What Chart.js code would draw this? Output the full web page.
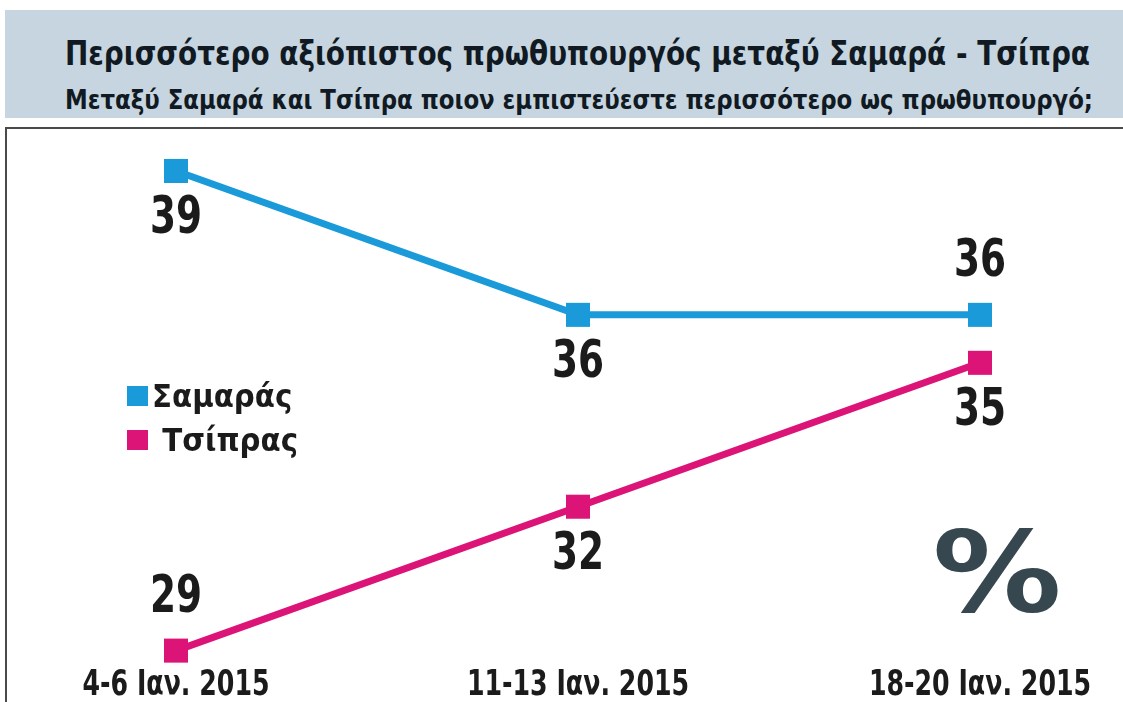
<!DOCTYPE html>
<html>
<head>
<meta charset="utf-8">
<script src="https://cdn.jsdelivr.net/npm/chart.js@4.4.1/dist/chart.umd.min.js"></script>
<style>
  html, body { margin: 0; padding: 0; background: #fff; }
  body { width: 1123px; height: 702px; position: relative; overflow: hidden; }
  #head {
    position: absolute; left: 5px; top: 10px; width: 1118px; height: 108px;
    background: #c6d5e0; color: #111a22;
    font-family: "DejaVu Sans Condensed", sans-serif; font-weight: bold;
  }
  #head div { position: absolute; white-space: nowrap; transform-origin: 0 0; }
  #head .t1 { left: 60px; top: 23px; font-size: 34px; line-height: 40px; }
  #head .t2 { left: 60px; top: 74px; font-size: 27px; line-height: 32px; }
  #frame {
    position: absolute; left: 5px; top: 127px; width: 1118px; height: 600px;
    border-top: 2px solid #4a4a4a; border-left: 2px solid #4a4a4a;
  }
  #pollChart { position: absolute; left: 0; top: 0; }
</style>
</head>
<body>
<div id="head">
  <div class="t1" data-w="1025">Περισσότερο αξιόπιστος πρωθυπουργός μεταξύ Σαμαρά - Τσίπρα</div>
  <div class="t2" data-w="1028">Μεταξύ Σαμαρά και Τσίπρα ποιον εμπιστεύεστε περισσότερο ως πρωθυπουργό;</div>
</div>
<div id="frame"></div>
<canvas id="pollChart" width="1123" height="702"></canvas>
<script>
const periods = ['4-6 Ιαν. 2015', '11-13 Ιαν. 2015', '18-20 Ιαν. 2015'];
const samaras = [39, 36, 36];
const tsipras = [29, 32, 35];

const FONT = '"DejaVu Sans Condensed", sans-serif';

// squeeze the header lines to the width of the original
document.querySelectorAll('#head div').forEach(el => {
  const w = el.getBoundingClientRect().width;
  el.style.transform = 'scaleX(' + (el.dataset.w / w) + ')';
});

function narrowText(ctx, text, x, y, sx) {
  ctx.save();
  ctx.translate(x, y);
  ctx.scale(sx, 1);
  ctx.fillText(text, 0, 0);
  ctx.restore();
}

// value labels, category labels, legend box and the big % sign
const extras = {
  id: 'extras',
  afterDatasetsDraw(chart) {
    const ctx = chart.ctx;
    ctx.save();
    ctx.fillStyle = '#1b1b1b';
    ctx.font = 'bold 52px ' + FONT;
    ctx.textAlign = 'center';
    ctx.textBaseline = 'middle';
    chart.data.datasets.forEach((ds, i) => {
      chart.getDatasetMeta(i).data.forEach((pt, j) => {
        const off = ds.labelSide[j] === 'up' ? -52 : 49;
        narrowText(ctx, String(ds.data[j]), pt.x, pt.y + off, 0.8);
      });
    });

    // x labels, placed by the category scale
    const xs = chart.scales.x;
    ctx.font = 'bold 36px ' + FONT;
    ctx.textBaseline = 'alphabetic';
    xs.ticks.forEach((t, i) => {
      narrowText(ctx, xs.getLabelForValue(t.value), xs.getPixelForTick(i), 695, 0.78);
    });

    // legend
    ctx.textAlign = 'left';
    ctx.textBaseline = 'middle';
    ctx.font = 'bold 31px ' + FONT;
    chart.data.datasets.forEach((ds, i) => {
      const y = 396 + i * 44;
      ctx.fillStyle = ds.borderColor;
      ctx.fillRect(127, y - 10, 21, 20);
      ctx.fillStyle = '#1b1b1b';
      narrowText(ctx, ds.label, 152, y + 3, 1.05);
    });

    ctx.fillStyle = '#37474f';
    ctx.font = 'bold 112px "DejaVu Sans", sans-serif';
    ctx.textAlign = 'center';
    ctx.textBaseline = 'alphabetic';
    narrowText(ctx, '%', 997, 611, 1.15);
    ctx.restore();
  }
};

const ctx = document.getElementById('pollChart').getContext('2d');
const chart = new Chart(ctx, {
  type: 'line',
  data: {
    labels: periods,
    datasets: [
      {
        label: 'Σαμαράς',
        data: samaras,
        borderColor: '#1a9ad8',
        backgroundColor: '#1a9ad8',
        borderWidth: 7,
        pointStyle: 'rect',
        pointRadius: 17,
        pointBorderWidth: 0,
        tension: 0,
        clip: false,
        labelSide: ['down', 'down', 'up']
      },
      {
        label: ' Τσίπρας',
        data: tsipras,
        borderColor: '#dc1477',
        backgroundColor: '#dc1477',
        borderWidth: 7,
        pointStyle: 'rect',
        pointRadius: 17,
        pointBorderWidth: 0,
        tension: 0,
        clip: false,
        labelSide: ['up', 'down', 'down']
      }
    ]
  },
  options: {
    responsive: false,
    animation: false,
    events: [],
    layout: { padding: { left: 176, right: 143, top: 123, bottom: 0 } },
    scales: {
      x: {
        offset: false,
        grid: { display: false, drawTicks: false },
        border: { display: false },
        ticks: { display: false, autoSkip: false },
        afterFit: (axis) => { axis.height = 37; }
      },
      y: { display: false, min: 28.7, max: 40 }
    },
    plugins: { legend: { display: false }, tooltip: { enabled: false } }
  },
  plugins: [extras]
});
</script>
</body>
</html>
